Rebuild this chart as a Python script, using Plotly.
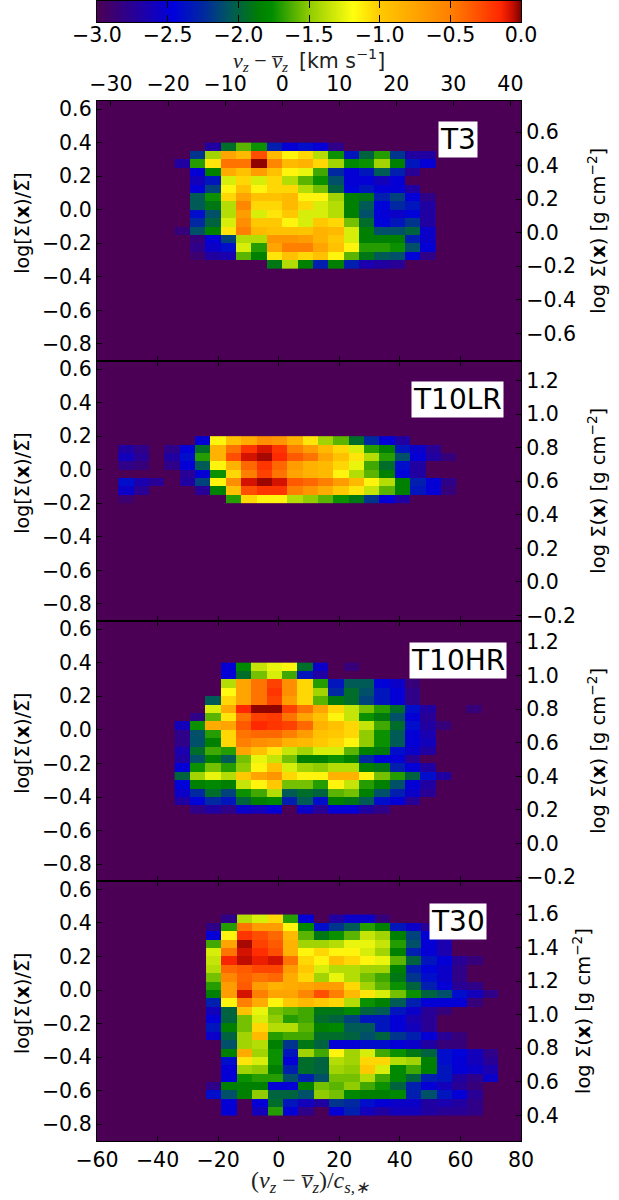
import plotly.graph_objects as go

_ = None
names = ["T3", "T10LR", "T10HR", "T30"]
bin_dx = 5.075
bin_dy = 0.05
x_starts = [-34.35, -52.97, -34.35, -24.0]
y_tops = [0.40, 0.20, 0.40, 0.45]

t3 = [
 [_,_,-2.7,-1.95,-1.6,-1.75,-2.3,-2.5,-2.4,-2.5,-2.8,_,_,_,_,_,_],
 [_,-2.2,-1.45,-0.75,-0.9,-0.3,-0.9,-1.15,-1.05,-1.4,-1.75,-2.35,-2.0,-1.7,-2.2,-2.7,-2.7],
 [-2.7,-1.7,-1.1,-0.45,-0.45,-0.02,-0.55,-0.9,-0.85,-1.05,-1.45,-1.8,-1.75,-1.45,-1.85,-2.35,-2.5],
 [_,-2.5,-1.85,-0.8,-0.95,-0.7,-0.95,-1.15,-1.25,-1.65,-2.25,-2.5,-2.35,-2.05,-2.3,-2.75,_],
 [_,-2.6,-2.35,-1.3,-1.05,-1.3,-1.05,-1.4,-1.6,-1.75,-2.1,-2.5,-2.5,-2.6,-2.5,_,_],
 [_,-2.5,-2.15,-1.15,-0.95,-1.15,-1.05,-1.05,-1.4,-1.55,-2.0,-2.45,-2.35,-2.5,-2.5,-2.7,_],
 [_,-2.05,-1.75,-1.05,-0.75,-0.95,-0.95,-0.9,-1.15,-1.15,-1.45,-1.85,-1.9,-2.3,-2.15,-2.5,-2.8],
 [_,-2.05,-1.9,-1.4,-0.55,-1.05,-1.05,-0.9,-1.05,-1.3,-1.4,-1.85,-2.05,-2.45,-2.25,-2.35,-2.7],
 [_,-2.4,-2.1,-1.4,-0.7,-1.3,-1.1,-1.0,-1.3,-1.3,-1.4,-1.85,-2.1,-2.5,-2.55,-2.45,-2.7],
 [_,-2.25,-2.0,-1.3,-0.6,-1.0,-1.0,-1.15,-1.3,-1.0,-1.05,-1.55,-1.95,-2.45,-2.35,-2.2,-2.7],
 [-2.85,-2.1,-1.85,-1.1,-0.5,-0.9,-0.95,-0.95,-0.97,-0.85,-0.9,-1.3,-1.85,-2.1,-2.1,-2.0,-2.55],
 [_,-2.85,-2.5,-2.15,-1.4,-1.4,-0.65,-0.65,-0.7,-0.85,-1.0,-1.3,-1.85,-1.85,-1.85,-2.3,-2.55],
 [_,-2.8,-2.55,-2.4,-1.3,-1.7,-0.75,-0.5,-0.5,-0.75,-0.95,-1.15,-1.7,-1.7,-1.75,-2.1,-2.5],
 [_,-2.9,-2.7,-2.65,-1.6,-1.85,-1.1,-0.95,-1.05,-0.95,-1.15,-1.6,-1.9,-2.05,-2.1,-2.45,-2.8],
 [_,_,_,_,_,_,-1.9,-1.4,-1.85,-2.3,-1.85,-2.3,-2.65,-2.7,-2.75,_,_],
]

t10lr = [
 [_,_,_,_,_,-2.5,-1.15,-0.95,-0.8,-0.6,-0.65,-0.85,-1.1,-1.45,-1.6,-1.95,-2.25,-2.5,-2.7,_,_,_],
 [-2.7,-2.8,_,-2.8,-2.5,-1.95,-0.85,-0.45,-0.2,-0.09,-0.2,-0.5,-0.7,-0.9,-1.05,-1.3,-1.7,-1.85,-2.35,-2.55,-2.75,_],
 [-2.6,-2.75,_,-2.7,-2.4,-1.7,-0.85,-0.3,-0.08,-0.04,-0.16,-0.35,-0.45,-0.75,-0.95,-1.1,-1.4,-1.7,-2.1,-2.5,-2.7,-2.85],
 [-2.8,-2.85,_,-2.8,-2.5,-2.05,-1.15,-0.85,-0.4,-0.2,-0.4,-0.7,-0.85,-0.9,-1.05,-1.25,-1.65,-1.95,-2.4,-2.7,_,_],
 [_,_,_,_,-2.75,-2.5,-1.75,-1.05,-0.5,-0.25,-0.45,-0.75,-0.85,-0.9,-1.15,-1.4,-1.6,-1.85,-2.45,-2.7,_,_],
 [-2.4,-2.65,-2.75,_,-2.7,-2.15,-1.15,-0.6,-0.08,-0.03,-0.08,-0.35,-0.4,-0.5,-0.7,-0.9,-1.15,-1.4,-1.85,-2.3,-2.5,-2.8],
 [-2.55,-2.75,_,_,_,-2.75,-1.85,-0.95,-0.3,-0.2,-0.2,-0.5,-0.65,-0.8,-1.0,-1.1,-1.35,-1.6,-1.85,-2.35,-2.5,-2.85],
 [-2.9,_,_,_,_,_,_,-1.7,-1.05,-1.15,-1.15,-1.4,-1.5,-1.6,-1.75,-1.9,-2.2,-2.5,-2.7,_,_,_],
]

t10hr = [
 [_,_,_,-2.5,-1.8,-1.35,-1.25,-1.15,-1.95,-2.55,_,-2.85,_,_,_,_,_,_,_,_],
 [_,_,_,-2.5,-1.95,-1.55,-1.3,-1.65,-2.35,-2.7,_,_,_,_,_,_,_,_,_,_],
 [_,_,_,-1.4,-0.75,-0.45,-0.25,-0.6,-1.05,-1.7,-2.35,-2.05,-2.05,-2.45,-2.55,-2.85,_,_,_,_],
 [_,_,_,-1.17,-0.75,-0.45,-0.2,-0.6,-1.05,-1.45,-2.25,-1.95,-2.1,-2.35,-2.5,-2.8,_,_,_,_],
 [_,_,-2.05,-1.05,-0.75,-0.45,-0.25,-0.7,-1.05,-1.6,-1.88,-1.95,-2.15,-2.35,-2.5,-2.8,_,_,_,_],
 [_,_,-1.3,-0.8,-0.15,-0.02,-0.02,-0.25,-0.45,-0.75,-1.05,-1.35,-1.55,-1.7,-1.95,-2.4,-2.7,_,_,-2.85],
 [_,-2.8,-1.6,-1.1,-0.45,-0.25,-0.22,-0.45,-0.75,-0.95,-1.15,-1.35,-1.75,-1.88,-2.1,-2.5,-2.75,_,_,_],
 [-2.6,-1.75,-0.8,-0.75,-0.35,-0.15,-0.2,-0.25,-0.4,-0.85,-0.95,-1.05,-1.35,-1.65,-1.95,-2.4,-2.7,-2.85,_,_],
 [-2.8,-2.1,-1.7,-1.05,-0.45,-0.4,-0.4,-0.5,-0.7,-0.95,-1.0,-1.05,-1.5,-1.75,-2.05,-2.5,-2.65,_,_,_],
 [-2.8,-2.1,-1.85,-1.05,-0.5,-0.6,-0.65,-0.85,-0.9,-1.0,-1.05,-1.15,-1.5,-1.75,-2.05,-2.5,-2.6,_,_,_],
 [-2.65,-1.95,-1.65,-1.7,-0.75,-0.95,-1.1,-1.35,-1.45,-1.3,-1.3,-1.6,-1.85,-1.88,-2.4,-2.55,-2.7,_,_,_],
 [-2.7,-2.1,-1.85,-2.05,-1.55,-1.25,-1.35,-1.55,-1.85,-1.85,-1.75,-1.85,-2.25,-2.45,-2.5,-2.75,_,_,_,_],
 [-2.5,-1.75,-1.55,-1.7,-1.5,-1.15,-0.95,-1.3,-1.45,-1.5,-1.4,-1.4,-1.85,-1.9,-2.3,-2.5,-2.7,_,_,_],
 [-2.0,-1.45,-1.25,-1.4,-1.0,-0.75,-0.65,-1.05,-1.15,-1.15,-0.85,-0.85,-1.15,-1.55,-1.7,-2.0,-2.4,-2.7,_,_],
 [-2.45,-1.85,-1.8,-1.85,-1.35,-1.15,-1.0,-1.55,-1.55,-1.7,-1.15,-1.35,-1.7,-1.85,-2.1,-2.5,-2.7,_,_,_],
 [-2.55,-2.25,-1.95,-2.15,-1.75,-1.65,-1.4,-2.05,-1.95,-2.0,-1.6,-1.55,-1.85,-2.1,-2.3,-2.55,-2.75,_,_,_],
 [-2.7,-2.45,-2.25,-2.35,-2.0,-1.85,-1.8,-2.3,-2.05,-2.4,-1.85,-1.9,-2.05,-2.4,-2.5,-2.75,_,_,_,_],
 [_,-2.8,-2.7,-2.8,-2.55,-2.6,-2.5,_,-2.55,-2.75,-2.5,-2.5,-2.7,-2.8,_,_,_,_,_,_],
]

t30 = [
 [_,-2.8,-1.4,-1.3,-1.05,-1.7,-2.5,_,-2.7,-2.55,-2.55,-2.85,_,_,_,_,_,_,_],
 [-2.8,-1.7,-0.45,-0.7,-0.7,-1.15,-1.8,-2.4,-2.2,-2.05,-1.7,-1.85,-2.35,-2.55,-2.75,_,_,_,_],
 [-2.5,-1.15,-0.2,-0.3,-0.4,-0.9,-1.6,-1.9,-1.75,-1.6,-1.35,-1.45,-1.85,-2.15,-2.5,-2.75,-2.9,_,_],
 [-1.65,-0.75,-0.04,-0.25,-0.35,-0.85,-1.45,-1.45,-1.4,-1.25,-1.25,-1.35,-1.7,-2.1,-2.5,-2.65,_,_,_],
 [-1.3,-0.45,-0.08,-0.17,-0.3,-0.85,-1.15,-1.05,-1.15,-1.15,-1.3,-1.45,-1.85,-2.3,-2.5,-2.65,_,_,_],
 [-1.35,-0.14,-0.06,-0.12,-0.08,-0.45,-1.05,-1.15,-0.95,-1.05,-1.15,-1.25,-1.6,-2.0,-2.35,-2.5,-2.75,-2.85,_],
 [-1.4,-0.4,-0.35,-0.27,-0.27,-0.7,-1.0,-1.3,-1.4,-1.4,-1.45,-1.45,-1.85,-2.3,-2.45,-2.55,-2.8,_,_],
 [-1.55,-0.55,-0.38,-0.45,-0.4,-0.8,-1.05,-1.45,-1.25,-1.4,-1.55,-1.65,-1.9,-2.2,-2.4,-2.55,-2.8,_,_],
 [-1.7,-0.7,-0.35,-0.7,-0.85,-0.8,-0.75,-0.7,-0.7,-1.05,-1.45,-1.6,-1.75,-2.0,-2.3,-2.5,-2.75,-2.8,_],
 [-1.85,-0.7,-0.08,-0.5,-0.75,-0.75,-0.55,-0.3,-0.5,-0.9,-1.1,-1.3,-1.55,-1.75,-2.0,-2.1,-2.4,-2.6,-2.8],
 [-2.3,-1.15,-0.5,-0.8,-1.15,-1.0,-0.9,-1.0,-1.05,-1.4,-1.75,-1.85,-2.05,-2.3,-2.5,-2.5,-2.5,-2.85,_],
 [-2.6,-2.0,-0.95,-1.25,-1.55,-1.6,-1.65,-1.9,-1.9,-1.8,-2.0,-2.05,-2.35,-2.55,-2.75,-2.85,_,_,_],
 [-2.5,-2.0,-1.55,-1.3,-1.5,-1.7,-1.65,-1.95,-2.0,-2.15,-2.35,-2.35,-2.5,-2.65,-2.75,_,_,_,_],
 [-2.35,-1.85,-1.55,-1.05,-1.4,-1.4,-1.6,-1.85,-1.8,-2.05,-2.05,-2.35,-2.5,-2.6,-2.75,_,_,_,_],
 [-2.55,-2.0,-1.45,-0.9,-1.7,-1.65,-1.65,-1.95,-1.95,-2.0,-2.1,-2.0,-2.2,-2.3,-2.5,-2.75,-2.85,_,_],
 [_,-2.1,-1.45,-1.4,-1.85,-2.2,-1.9,-2.0,-2.5,-2.5,-2.4,-2.4,-2.5,-2.55,-2.7,-2.85,-2.85,_,_],
 [_,-1.85,-0.8,-1.45,-1.75,-2.35,-1.45,-1.65,-1.15,-1.45,-1.3,-1.65,-1.75,-1.9,-2.0,-2.4,-2.45,-2.6,-2.8],
 [_,-2.4,-1.1,-1.3,-1.75,-2.5,-1.95,-2.0,-1.4,-1.45,-1.05,-1.05,-1.4,-1.45,-1.85,-2.4,-2.5,-2.6,-2.75],
 [_,-2.5,-1.45,-1.5,-1.85,-2.3,-1.95,-2.0,-1.45,-1.5,-1.0,-1.3,-1.8,-1.65,-1.85,-2.35,-2.5,-2.55,-2.65],
 [_,-2.5,-1.75,-1.7,-1.7,-2.1,-2.3,-2.1,-1.55,-1.55,-1.4,-1.65,-1.8,-2.0,-2.3,-2.35,-2.7,-2.8,-2.55],
 [-2.8,-1.85,-1.85,-1.85,-2.5,-2.5,-1.85,-1.55,-1.6,-1.5,-1.65,-1.75,-2.0,-2.3,-2.5,-2.6,-2.75,-2.85,_],
 [-2.4,-2.1,-1.85,-1.5,-2.0,-2.0,-2.1,-1.5,-1.55,-1.8,-1.85,-1.85,-1.8,-2.3,-2.1,-2.35,-2.5,-2.75,_],
 [_,-2.5,_,-2.5,-1.95,-2.35,-2.6,-2.7,-2.2,-2.25,-2.4,-2.5,-2.55,-2.55,-2.7,-2.65,-2.7,-2.8,_],
 [_,-2.5,_,-2.6,-1.7,-2.5,-2.8,_,-2.5,-2.3,-2.6,-2.7,-2.6,-2.6,-2.7,-2.75,-2.75,-2.8,_],
]

panels = [t3, t10lr, t10hr, t30]

x_range = [-60, 80]
y_range = [-0.9, 0.65]
top_range = [-32.45, 41.86]
top_ticks = [-30, -20, -10, 0, 10, 20, 30, 40]
bottom_ticks = [-60, -40, -20, 0, 20, 40, 60, 80]
left_ticks = [0.6, 0.4, 0.2, 0.0, -0.2, -0.4, -0.6, -0.8]
right_ranges = [[-0.763, 0.787], [-0.231, 1.319], [-0.223, 1.327], [0.247, 1.797]]
right_ticks = [
    [0.6, 0.4, 0.2, 0.0, -0.2, -0.4, -0.6],
    [1.2, 1.0, 0.8, 0.6, 0.4, 0.2, 0.0, -0.2],
    [1.2, 1.0, 0.8, 0.6, 0.4, 0.2, 0.0, -0.2],
    [1.6, 1.4, 1.2, 1.0, 0.8, 0.6, 0.4],
]
cbar_ticks = [-3.0, -2.5, -2.0, -1.5, -1.0, -0.5, 0.0]
cbar_levels = [-3.0, -2.75, -2.5, -2.25, -2.0, -1.75, -1.5, -1.25, -1.0, -0.75, -0.5, -0.25, 0.0]

# layout in pixels
W, H = 619, 1200
left_px, right_px = 97, 521
cbar_px = (1, 22)
panel_px = [(100.7, 360.7), (360.7, 620.7), (620.7, 881), (881, 1141)]
name_px = [(458, 139), (457.5, 399), (458, 660), (457.5, 921.5)]
right_title_x = [597, 597, 597, 582]

colorscale = [
    [0.000, "#4b0055"], [0.177, "#0000dd"], [0.250, "#0028a0"], [0.300, "#00506a"],
    [0.383, "#008000"], [0.410, "#008c00"], [0.500, "#90cc00"], [0.604, "#ffff10"],
    [0.667, "#ffc800"], [0.833, "#ff8000"], [0.950, "#ff2800"], [0.975, "#d01000"],
    [1.000, "#780000"],
]
FONT = "DejaVu Sans"
TICK = dict(family=FONT, size=20.5, color="black")
MATH = "Liberation Serif"
CENTER = dict(xanchor="center", yanchor="middle", xref="paper", yref="paper", showarrow=False)

fig = go.Figure()
axcommon = dict(ticks="inside", ticklen=5, tickwidth=1, tickcolor="black",
                showline=True, linecolor="black", linewidth=1.4,
                showgrid=False, zeroline=False, tickfont=TICK)

for i, rows in enumerate(panels):
    k = i + 1
    ncol = len(rows[0])
    xs = [x_starts[i] + (c + 0.5) * bin_dx for c in range(ncol)]
    ys = [y_tops[i] - (r + 0.5) * bin_dy for r in range(len(rows))]
    xn, yn = f"x{k}", f"y{k}"
    fig.add_trace(go.Heatmap(x=xs, y=ys, z=rows, coloraxis="coloraxis", xaxis=xn, yaxis=yn,
                             hoverongaps=False))
    top, bot = panel_px[i]
    dom = [1 - bot / H, 1 - top / H]
    fig.layout[f"xaxis{k}"] = dict(axcommon, domain=[left_px / W, right_px / W], range=x_range,
                                   anchor=yn, mirror=(True if i == 0 else "ticks"),
                                   tickvals=bottom_ticks,
                                   showticklabels=(i == 3), tickformat="d")
    fig.layout[f"yaxis{k}"] = dict(axcommon, domain=dom, range=y_range, anchor=xn, mirror=True,
                                   tickvals=left_ticks, tickformat=".1f")
    # right hand axis
    ry = f"y{k + 4}"
    fig.add_trace(go.Scatter(x=[_], y=[_], xaxis=xn, yaxis=ry, mode="none",
                             showlegend=False, hoverinfo="skip"))
    fig.layout[f"yaxis{k + 4}"] = dict(axcommon, domain=dom, range=right_ranges[i], anchor=xn,
                                       overlaying=yn, side="right", tickvals=right_ticks[i],
                                       tickformat=".1f")
    # panel name
    fig.add_annotation(x=name_px[i][0] / W, y=1 - name_px[i][1] / H, text=names[i],
                       bgcolor="white", borderpad=1,
                       font=dict(family=FONT, size=28, color="black"), **CENTER)
    # y titles
    mid_px = (top + bot) / 2
    fig.add_annotation(x=22 / W, y=1 - (mid_px - 7) / H, textangle=-90,
                       text="log[Σ(<b>x</b>)/Σ\u0305]",
                       font=dict(family=FONT, size=19, color="black"), **CENTER)
    fig.add_annotation(x=right_title_x[i] / W, y=1 - mid_px / H, textangle=-90,
                       text="log Σ(<b>x</b>) [g cm<sup>−2</sup>]",
                       font=dict(family=FONT, size=19.5, color="black"), **CENTER)

# top axis of the first panel
fig.add_trace(go.Scatter(x=[_], y=[_], xaxis="x5", yaxis="y1", mode="none",
                         showlegend=False, hoverinfo="skip"))
fig.layout["xaxis5"] = dict(axcommon, domain=[left_px / W, right_px / W], range=top_range, anchor="y1",
                            overlaying="x1", side="top", tickvals=top_ticks, tickformat="d")

# colour bar: its own thin axes, shaded through the same colour axis
fig.add_trace(go.Heatmap(x=cbar_levels, y=[0], z=[cbar_levels], coloraxis="coloraxis",
                         xaxis="x6", yaxis="y9", zsmooth="best", hoverinfo="skip"))
fig.layout["xaxis6"] = dict(axcommon, domain=[left_px / W, right_px / W], range=[-3, 0], anchor="y9",
                            mirror="ticks", ticklen=7, tickvals=cbar_ticks, tickformat=".1f",
                            ticklabelstandoff=-6)
fig.layout["yaxis9"] = dict(domain=[1 - cbar_px[1] / H, 1 - cbar_px[0] / H], range=[-0.5, 0.5],
                            anchor="x6", showticklabels=False, ticks="", showgrid=False,
                            zeroline=False, showline=True, linecolor="black", linewidth=1.4,
                            mirror=True)

fig.add_annotation(x=309 / W, y=1 - 61 / H,
                   text="<i>v<sub>z</sub></i> − <i>v\u0305<sub>z</sub></i>  "
                        f"<span style=\"font-family:{FONT};font-size:20.5px\">[km s<sup>−1</sup>]</span>",
                   font=dict(family=MATH, size=22, color="#222"), **CENTER)
fig.add_annotation(x=310 / W, y=1 - 1182 / H,
                   text="(<i>v<sub>z</sub></i> − <i>v\u0305<sub>z</sub></i>)/<i>c<sub>s,∗</sub></i>",
                   font=dict(family=MATH, size=24, color="#222"), **CENTER)

fig.update_layout(
    width=W, height=H, margin=dict(l=0, r=0, t=0, b=0, autoexpand=False),
    paper_bgcolor="white", plot_bgcolor="#4b0055", showlegend=False,
    coloraxis=dict(cmin=-3, cmax=0, colorscale=colorscale, showscale=False),
)
fig.write_html("out.html", config=dict(displayModeBar=False),
               post_script="document.body.style.margin='0';")
